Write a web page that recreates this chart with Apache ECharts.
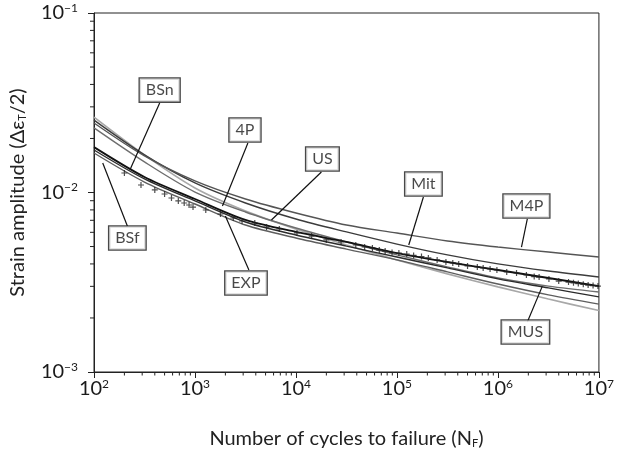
<!DOCTYPE html>
<html><head><meta charset="utf-8">
<script src="https://cdn.jsdelivr.net/npm/echarts@6/dist/echarts.min.js"></script>
<style>html,body{margin:0;padding:0;background:#fff}#c{width:617px;height:461px}</style>
</head><body><div id="c"></div>
<script>
// Number of cycles at which each curve was read
const cycles = [100, 316, 1000, 3162, 10000, 31623, 100000, 316228, 1000000, 3162278, 10000000];
// Strain amplitude of each estimation method
const US  = [0.0263, 0.0162, 0.0106, 0.00789, 0.00626, 0.0051, 0.00421, 0.00352, 0.00298, 0.00255, 0.0022];
const Mit = [0.0253, 0.0162, 0.0113, 0.00874, 0.00712, 0.00603, 0.00516, 0.00449, 0.0040, 0.00365, 0.00338];
const M4P = [0.0244, 0.0160, 0.0116, 0.0092, 0.00769, 0.00659, 0.00595, 0.00537, 0.00497, 0.00466, 0.00437];
const P4  = [0.0229, 0.0148, 0.01006, 0.00779, 0.00634, 0.0053, 0.00449, 0.00385, 0.00334, 0.00301, 0.00279];
const BSn = [0.0179, 0.0122, 0.0092, 0.00703, 0.00603, 0.0053, 0.0046, 0.0041, 0.0037, 0.00334, 0.00301];
const MUS = [0.01725, 0.0119, 0.00897, 0.00685, 0.0058, 0.00503, 0.00437, 0.0038, 0.0033, 0.00294, 0.00262];
const BSf = [0.0166, 0.01144, 0.00863, 0.00659, 0.00558, 0.00484, 0.00421, 0.00361, 0.00309, 0.00269, 0.00239];

// Experimental points
const expN = [200, 292, 400, 500, 585, 684, 782, 874, 956, 1279, 1788, 2393, 2924, 3909, 5114, 6839,
  10233, 14300, 20000, 27980, 39100, 47860, 57150, 66830, 76400, 89400, 104500, 125000, 146200, 175000,
  204600, 250000, 305500, 357300, 409000, 500000, 625000, 714000, 836000, 977000, 1222000, 1528000,
  1914000, 2286000, 2557000, 3199000, 4000000, 5000000, 5600000, 6250000, 7000000, 7820000, 8750000, 9780000];
const expStrain = [0.01284, 0.01101, 0.01033, 0.00981, 0.00932, 0.00897, 0.00874, 0.00852, 0.0083, 0.00799,
  0.00759, 0.00721, 0.00694, 0.00676, 0.00642, 0.00626, 0.00595, 0.00572, 0.00544, 0.0053, 0.0051, 0.00497,
  0.00491, 0.00478, 0.00472, 0.00463, 0.0046, 0.00454, 0.00446, 0.0044, 0.00432, 0.00421, 0.0041, 0.00405,
  0.0040, 0.0039, 0.00385, 0.0038, 0.00375, 0.0037, 0.00361, 0.00356, 0.00347, 0.0034, 0.00338, 0.0033,
  0.00321, 0.00317, 0.00314, 0.00311, 0.00308, 0.00305, 0.00303, 0.00301];

// Annotation boxes and their leader lines
const labelNames   = ['BSn', '4P', 'US', 'Mit', 'M4P', 'MUS', 'BSf', 'EXP'];
const labelBoxN    = [447, 3126, 18280, 182800, 1914000, 1871000, 214, 3199];
const labelBoxS    = [0.0372, 0.0223, 0.01537, 0.01115, 0.00841, 0.00167, 0.00558, 0.00313];
const leaderFromN  = [447, 3342, 17860, 182800, 1955000, 1955000, 214, 3420];
const leaderFromS  = [0.0315, 0.01887, 0.0130, 0.00944, 0.00712, 0.0019, 0.0065, 0.0037];
const leaderToN    = [229, 1871, 5715, 130900, 1710000, 2735000, 122, 2000];
const leaderToS    = [0.01352, 0.00841, 0.00703, 0.0051, 0.00497, 0.00298, 0.0146, 0.0074];

const xMajor = [100, 1000, 10000, 100000, 1000000, 10000000];
const yMajor = [0.001, 0.01, 0.1];

const xMinor = [], yMinor = [];
for (let i = 0; i < xMajor.length - 1; i++) for (let k = 2; k <= 9; k++) xMinor.push(xMajor[i] * k);
for (let i = 0; i < yMajor.length - 1; i++) for (let k = 2; k <= 9; k++) yMinor.push(yMajor[i] * k);

const FONT = 'Lato';
const chart = echarts.init(document.getElementById('c'), null, {renderer: 'canvas'});

function curve(name, arr, color, width) {
  return {
    name, type: 'line', data: cycles.map((n, i) => [n, arr[i]]),
    smooth: 0.3, showSymbol: false, symbol: 'none', z: 3,
    lineStyle: {color, width}, silent: true
  };
}
const supRich = {
  b: {fontSize: 20, fontFamily: FONT, color: '#1a1a1a', lineHeight: 22},
  s: {fontSize: 12, fontFamily: FONT, color: '#1a1a1a', verticalAlign: 'top', lineHeight: 12}
};
const subRich = {sub: {fontSize: 11, fontFamily: FONT, color: '#222', verticalAlign: 'bottom', lineHeight: 11}};

chart.setOption({
  animation: false,
  backgroundColor: '#fff',
  grid: {left: 86, right: 15, top: 13, bottom: 89, show: true, borderColor: '#222', borderWidth: 1, backgroundColor: 'transparent'},
  xAxis: {
    type: 'log', logBase: 10, min: 100, max: 10000000,
    axisLine: {show: true, lineStyle: {color: '#222', width: 1}},
    axisTick: {show: true, length: 6, lineStyle: {color: '#222'}},
    splitLine: {show: false},
    axisLabel: {margin: 6, formatter: v => '{b|10}{s|' + Math.round(Math.log10(v)) + '}', rich: supRich},
    name: 'Number of cycles to failure (N{sub|F})', nameLocation: 'middle', nameGap: 57,
    nameTextStyle: {fontSize: 20, fontFamily: FONT, color: '#222', rich: subRich}
  },
  yAxis: {
    type: 'log', logBase: 10, min: 0.001, max: 0.1,
    axisLine: {show: true, lineStyle: {color: '#222', width: 1}},
    axisTick: {show: true, length: 6, lineStyle: {color: '#222'}},
    splitLine: {show: false},
    axisLabel: {margin: 16, formatter: v => '{b|10}{s|\u2212' + Math.round(-Math.log10(v)) + '}', rich: supRich},
    name: 'Strain amplitude (\u0394\u03b5{sub|T}/2)', nameLocation: 'middle', nameGap: 66,
    nameTextStyle: {fontSize: 20, fontFamily: FONT, color: '#222', rich: subRich}
  },
  series: [
    curve('US', US, '#a8a8a8', 1.7),
    curve('Mit', Mit, '#3c3c3c', 1.4),
    curve('M4P', M4P, '#555', 1.4),
    curve('4P', P4, '#6e6e6e', 1.4),
    curve('MUS', MUS, '#2b2b2b', 1.4),
    curve('BSf', BSf, '#5e5e5e', 1.4),
    curve('BSn', BSn, '#111', 1.8),
    {
      name: 'EXP', type: 'scatter', z: 4, silent: true,
      data: expN.map((n, i) => [n, expStrain[i]]),
      symbol: 'path://M4,0H6V4H10V6H6V10H4V6H0V4H4Z', symbolSize: 6,
      itemStyle: {color: '#222'}
    },
    {
      type: 'custom', silent: true, z: 2, clip: false,
      data: xMinor.map(v => [v, 0.001]),
      renderItem: (params, api) => {
        const p = api.coord([api.value(0), api.value(1)]);
        return {type: 'line', shape: {x1: p[0], y1: p[1], x2: p[0], y2: p[1] + 3.5}, style: {stroke: '#222', lineWidth: 1}};
      }
    },
    {
      type: 'custom', silent: true, z: 2, clip: false,
      data: yMinor.map(v => [100, v]),
      renderItem: (params, api) => {
        const p = api.coord([api.value(0), api.value(1)]);
        return {type: 'line', shape: {x1: p[0] - 4, y1: p[1], x2: p[0], y2: p[1]}, style: {stroke: '#222', lineWidth: 1}};
      }
    },
    {
      type: 'scatter', name: 'labels', z: 10, silent: true,
      symbolSize: 1, itemStyle: {color: 'rgba(0,0,0,0)'},
      data: labelNames.map((nm, i) => ({name: nm, value: [labelBoxN[i], labelBoxS[i]]})),
      label: {show: true, position: 'inside', formatter: '{b}', fontSize: 16, fontFamily: FONT, color: '#1a1a1a',
        backgroundColor: '#fff', borderColor: '#1a1a1a', borderWidth: 1.3, padding: [4, 6, 3, 6]},
      markLine: {
        silent: true, symbol: ['none', 'none'], animation: false,
        lineStyle: {color: '#111', width: 1.2, type: 'solid'}, label: {show: false},
        data: labelNames.map((nm, i) => [{coord: [leaderFromN[i], leaderFromS[i]]}, {coord: [leaderToN[i], leaderToS[i]]}])
      }
    }
  ]
});
</script></body></html>
